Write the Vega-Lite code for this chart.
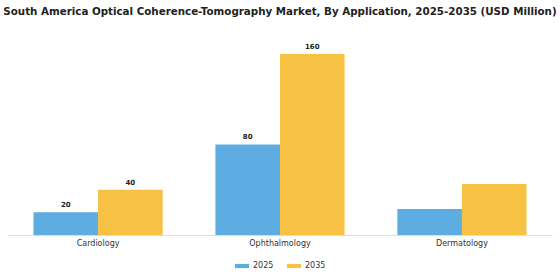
{
  "$schema": "https://vega.github.io/schema/vega-lite/v6.json",
  "autosize": "none",
  "width": 544,
  "height": 198,
  "padding": {"left": 8, "top": 37, "right": 8, "bottom": 45},
  "background": "white",
  "title": {
    "text": "South America Optical Coherence-Tomography Market, By Application, 2025-2035 (USD Million)",
    "font": "DejaVu Sans",
    "fontSize": 10.3,
    "fontWeight": "bold",
    "color": "#222222",
    "anchor": "middle",
    "offset": 20
  },
  "data": {
    "values": [
      {"application": "Cardiology", "year": "2025", "value": 20, "label": "20"},
      {"application": "Cardiology", "year": "2035", "value": 40, "label": "40"},
      {"application": "Ophthalmology", "year": "2025", "value": 80, "label": "80"},
      {"application": "Ophthalmology", "year": "2035", "value": 160, "label": "160"},
      {"application": "Dermatology", "year": "2025", "value": 23, "label": ""},
      {"application": "Dermatology", "year": "2035", "value": 45, "label": ""}
    ]
  },
  "encoding": {
    "x": {
      "field": "application",
      "type": "nominal",
      "sort": ["Cardiology", "Ophthalmology", "Dermatology"],
      "scale": {"paddingInner": 0.29, "paddingOuter": 0.14},
      "axis": {
        "title": null,
        "labelAngle": 0,
        "labelFont": "DejaVu Sans",
        "labelFontSize": 8,
        "labelColor": "#333333",
        "ticks": false,
        "domainColor": "#dddddd",
        "labelPadding": 4
      }
    },
    "xOffset": {"field": "year", "type": "nominal", "scale": {"paddingInner": 0}},
    "y": {
      "field": "value",
      "type": "quantitative",
      "scale": {"domain": [0, 175]},
      "axis": null
    }
  },
  "layer": [
    {
      "mark": {"type": "bar"},
      "encoding": {
        "color": {
          "field": "year",
          "type": "nominal",
          "scale": {"domain": ["2025", "2035"], "range": ["#5DADE2", "#F7C244"]},
          "legend": {
            "title": null,
            "orient": "bottom",
            "direction": "horizontal",
            "symbolType": "M-1,-0.3H1V0.3H-1Z",
            "symbolSize": 196,
            "symbolStrokeWidth": 0,
            "columnPadding": 13,
            "labelFont": "DejaVu Sans",
            "labelFontSize": 8,
            "labelColor": "#333333",
            "offset": 12
          }
        }
      }
    },
    {
      "mark": {"type": "text", "dy": -7, "font": "DejaVu Sans", "fontSize": 7, "fontWeight": "bold", "color": "#222222"},
      "encoding": {"text": {"field": "label"}}
    }
  ],
  "config": {
    "view": {"stroke": null},
    "legend": {"layout": {"bottom": {"anchor": "middle"}}}
  }
}
